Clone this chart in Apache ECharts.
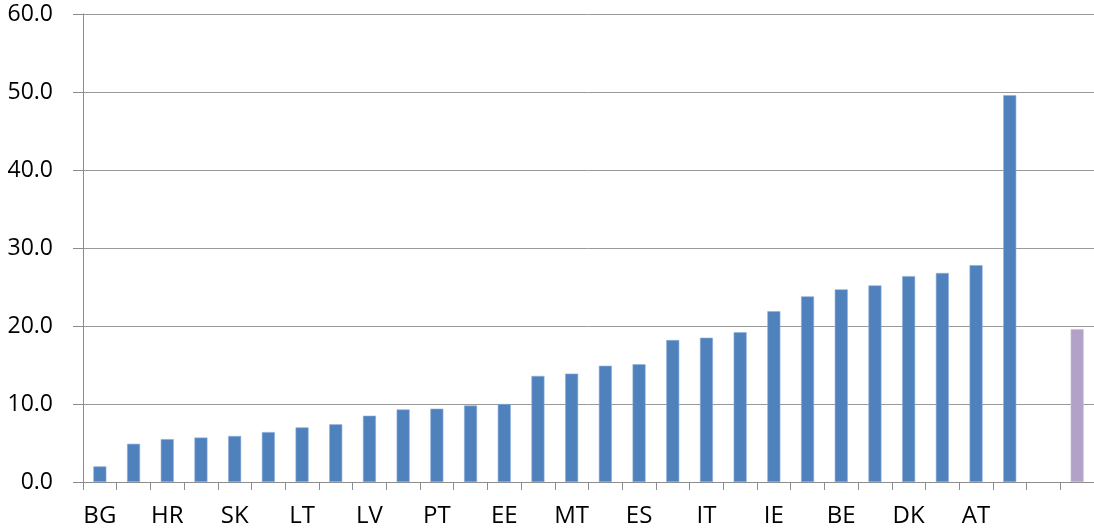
<!DOCTYPE html>
<html>
<head>
<meta charset="utf-8">
<script src="https://cdn.jsdelivr.net/npm/echarts@6/dist/echarts.min.js"></script>
<style>
  html, body { margin: 0; padding: 0; background: #fff; }
  #chart { width: 1094px; height: 531px; }
</style>
</head>
<body>
<div id="chart"></div>
<script>
// country codes, sorted by value; every other one is labelled
var countries = ["BG", "RO", "HR", "HU", "SK", "PL", "LT", "CZ", "LV", "SI",
  "PT", "CY", "EE", "EL", "MT", "FR", "ES", "DE", "IT", "UK",
  "IE", "NL", "BE", "FI", "DK", "LU", "AT", "SE", "", "EU28"];

var values = [2.0, 4.9, 5.5, 5.7, 5.9, 6.4, 7.0, 7.4, 8.5, 9.3,
  9.4, 9.8, 10.0, 13.6, 13.9, 14.9, 15.1, 18.2, 18.5, 19.2,
  21.9, 23.8, 24.7, 25.2, 26.4, 26.8, 27.8, 49.6, null, 19.6];

var yTicks = [0, 10, 20, 30, 40, 50, 60];

var blue = "#4F81BD";
var purple = "#B3A2C7";

// last bar is the EU average, drawn in purple
var barData = values.map((v, i) => {
  if (countries[i] === "EU28") {
    return { value: v, itemStyle: { color: purple, borderColor: "#c9bdd9" } };
  }
  return v;
});

var chart = echarts.init(document.getElementById("chart"));
var option = {
  animation: false,
  textStyle: { fontFamily: "Open Sans" },
  grid: { left: 83, right: 0, top: 14, bottom: 49 },
  xAxis: {
    type: "category",
    data: countries,
    axisLine: { lineStyle: { color: "#8c8c8c", width: 1 } },
    axisTick: { show: true, length: 8, interval: 0, lineStyle: { color: "#8c8c8c" } },
    axisLabel: { interval: 1, margin: 22, fontSize: 24, color: "#000" }
  },
  yAxis: {
    type: "value",
    min: yTicks[0],
    max: yTicks[yTicks.length - 1],
    interval: 10,
    axisLine: { show: true, lineStyle: { color: "#8c8c8c", width: 1 } },
    axisTick: { show: true, length: 10, lineStyle: { color: "#8c8c8c" } },
    splitLine: { lineStyle: { color: "#999999", width: 1 } },
    axisLabel: {
      margin: 30,
      fontSize: 23,
      color: "#000",
      formatter: (v) => v.toFixed(1)
    }
  },
  series: [
    {
      type: "bar",
      data: barData,
      barWidth: 13,
      itemStyle: { color: blue, borderColor: "#8eaedb", borderWidth: 0.6 }
    }
  ]
};
chart.setOption(option);
</script>
</body>
</html>
